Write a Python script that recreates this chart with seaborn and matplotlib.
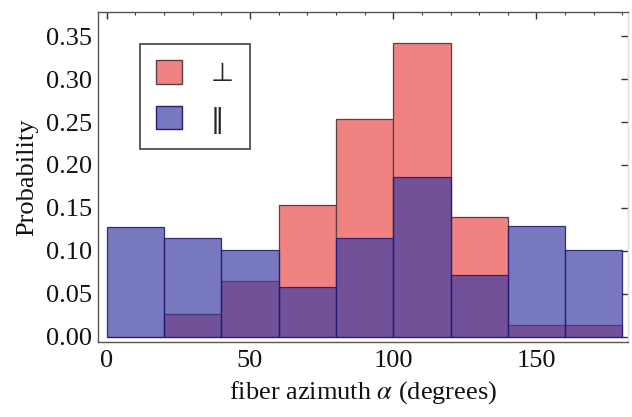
import numpy as np
import pandas as pd
import matplotlib
matplotlib.use("Agg")
import matplotlib.pyplot as plt
from matplotlib.patches import Patch
from matplotlib.ticker import MultipleLocator
import seaborn as sns

bin_edges = [0, 20, 40, 60, 80, 100, 120, 140, 160, 180]
perp = [0.0, 0.027, 0.0645, 0.153, 0.254, 0.342, 0.140, 0.014, 0.014]
para = [0.128, 0.115, 0.1015, 0.058, 0.115, 0.186, 0.072, 0.129, 0.1015]
labels = ["\u22a5", "\u2016"]

centers = [(a + b) / 2 for a, b in zip(bin_edges[:-1], bin_edges[1:])]
df = pd.DataFrame({"center": centers, "perp": perp, "para": para})

sns.set_theme(style="white")
plt.rcParams["font.family"] = ["Liberation Serif", "DejaVu Serif"]
plt.rcParams["mathtext.fontset"] = "stix"

fig = plt.figure(figsize=(6.32, 4.17), dpi=100)
ax = fig.add_axes([0.155, 0.180, 0.839, 0.791])

red_face = "#F08282"
blue_face = (0.23, 0.23, 0.64, 0.69)

sns.histplot(data=df, x="center", weights="perp", bins=bin_edges, stat="count",
             color=red_face, alpha=1.0, edgecolor="#5a4040", linewidth=0.9, ax=ax)
sns.histplot(data=df, x="center", weights="para", bins=bin_edges, stat="count",
             facecolor=blue_face, edgecolor=(0.15, 0.1, 0.45, 0.9), linewidth=0.9,
             ax=ax)
for p in ax.patches[len(perp):]:
    p.set_facecolor(blue_face)

ax.set_xlim(-3, 182)
ax.set_ylim(-0.006, 0.378)
ax.set_xticks([0, 50, 100, 150])
ax.set_yticks(np.arange(0, 0.36, 0.05))
ax.set_yticklabels([f"{v:.2f}" for v in np.arange(0, 0.36, 0.05)])
ax.xaxis.set_minor_locator(MultipleLocator(10))
ax.yaxis.set_minor_locator(MultipleLocator(0.005))
ax.tick_params(which="both", direction="in", top=True, right=True,
               labelsize=19, colors="#333333", labelcolor="#111111")
ax.tick_params(which="major", length=5, width=1, pad=6)
ax.tick_params(which="minor", length=2.5, width=0.8)
ax.tick_params(axis="y", which="minor", right=False)
ax.tick_params(axis="y", which="major", pad=4)
for s in ax.spines.values():
    s.set_color("#555555")
    s.set_linewidth(1.0)
ax.spines["right"].set_color("#dddddd")

ax.set_xlabel(r"fiber azimuth $\alpha$ (degrees)", fontsize=19, color="#111111",
              labelpad=5)
ax.set_ylabel("Probability", fontsize=19, color="#111111", labelpad=6)

handles = [Patch(facecolor=red_face, edgecolor="#5a4040"),
           Patch(facecolor=(0.47, 0.47, 0.75), edgecolor=(0.15, 0.1, 0.45))]
leg = ax.legend(handles, labels, loc="upper left", bbox_to_anchor=(0.079, 0.903),
                frameon=True, fancybox=False, handlelength=1.0,
                handleheight=1.0, handletextpad=1.1, labelspacing=0.72,
                borderpad=0.6, borderaxespad=0.0,
                prop={"family": ["DejaVu Sans"], "size": 19})
leg.get_frame().set_edgecolor("#222222")
leg.get_frame().set_linewidth(1.3)

fig.savefig("out.png", dpi=100, facecolor="white")
